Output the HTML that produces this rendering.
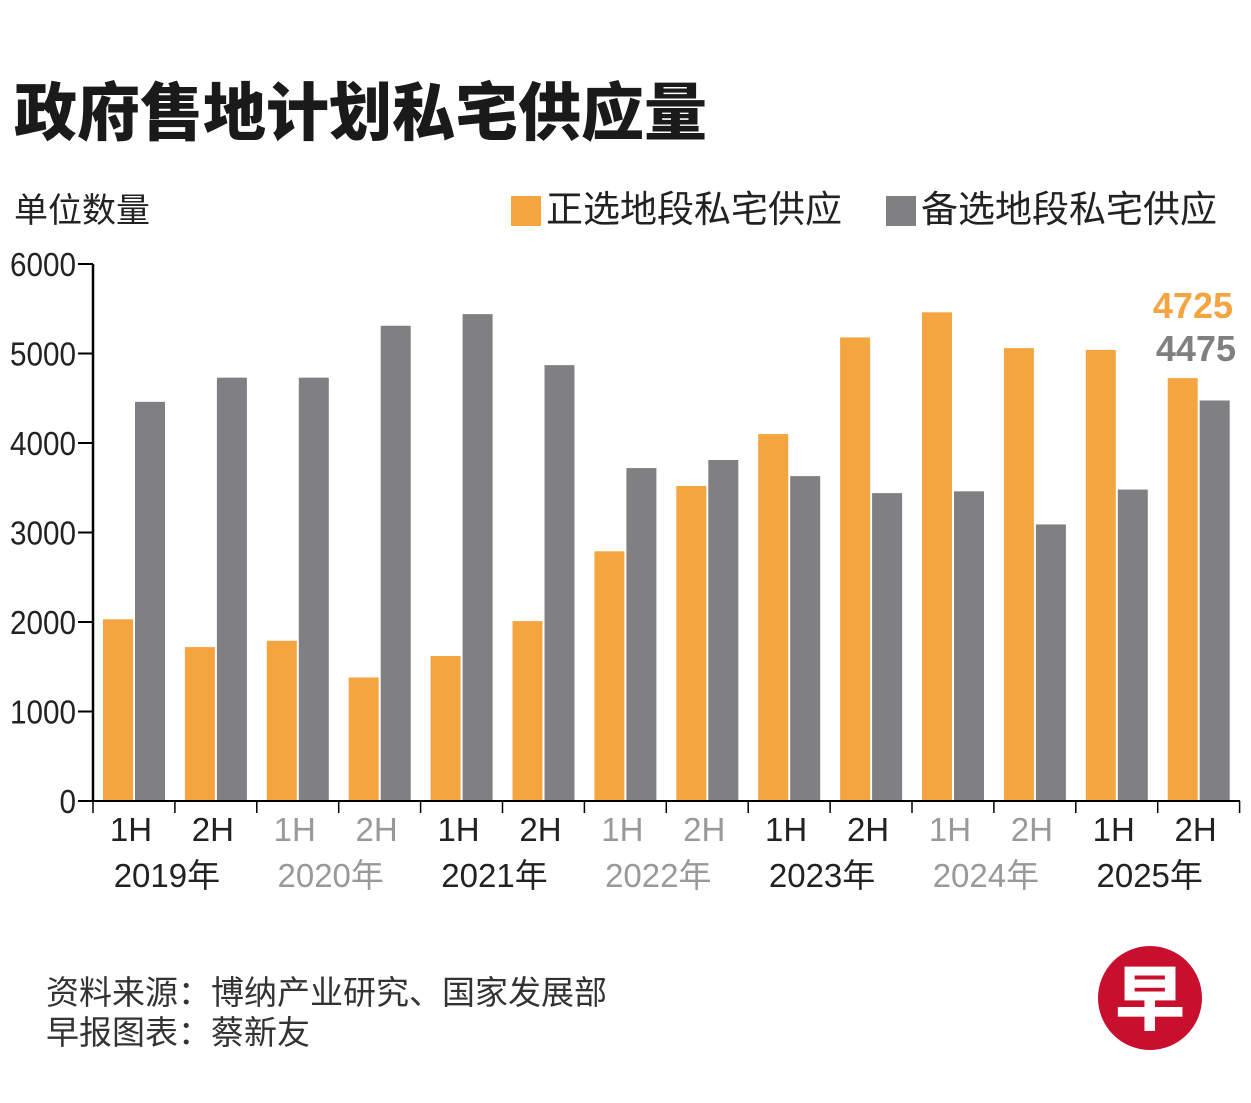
<!DOCTYPE html>
<html><head><meta charset="utf-8"><style>
body{margin:0;background:#fff;width:1251px;height:1098px;overflow:hidden;font-family:"Liberation Sans","Noto Sans CJK SC",sans-serif}
</style></head><body>
<svg id="c" width="1251" height="1098" xmlns="http://www.w3.org/2000/svg">
<text x="14" y="135" font-size="63" font-weight="900" fill="#1a1a1a" font-family="Noto Sans CJK SC,sans-serif">政府售地计划私宅供应量</text>
<text x="14" y="222" font-size="34" fill="#222" font-family="Noto Sans CJK SC,sans-serif">单位数量</text>
<rect x="511" y="196" width="30" height="30" fill="#f5a53f"/>
<text x="546" y="222" font-size="37" fill="#222" font-family="Noto Sans CJK SC,sans-serif">正选地段私宅供应</text>
<rect x="886" y="196" width="30" height="30" fill="#808082"/>
<text x="921" y="222" font-size="37" fill="#222" font-family="Noto Sans CJK SC,sans-serif">备选地段私宅供应</text>
<g id="plot"></g>
<text x="1233" y="318" text-anchor="end" font-size="36" font-weight="bold" fill="#f5a53f">4725</text>
<text x="1236" y="361" text-anchor="end" font-size="36" font-weight="bold" fill="#808082">4475</text>
<text x="46" y="1004" font-size="33" fill="#333" font-family="Noto Sans CJK SC,sans-serif">资料来源：博纳产业研究、国家发展部</text>
<text x="46" y="1044" font-size="33" fill="#333" font-family="Noto Sans CJK SC,sans-serif">早报图表：蔡新友</text>
<circle cx="1150" cy="998" r="52" fill="#c8102e"/>
<text x="1150" y="1024" text-anchor="middle" font-size="70" font-weight="900" fill="#fff" font-family="Noto Sans CJK SC,sans-serif">早</text>
</svg>
<script>
const years=["2019年","2020年","2021年","2022年","2023年","2024年","2025年"];
const halves=["1H","2H"];
const primary=[2030,1720,1790,1380,1620,2010,2790,3520,4100,5180,5460,5060,5040,4725];
const reserve=[4460,4730,4730,5310,5440,4870,3720,3810,3630,3440,3460,3090,3480,4475];
const yTicks=[0,1000,2000,3000,4000,5000,6000];
const NS="http://www.w3.org/2000/svg";
const g=document.getElementById('plot');
const x0=93,hw=81.9,y0=801,yTop=264,yMax=6000;
const Y=v=>y0-(v/yMax)*(y0-yTop);
function mk(t,a,txt){const e=document.createElementNS(NS,t);for(const k in a)e.setAttribute(k,a[k]);if(txt!=null)e.textContent=txt;g.appendChild(e);return e;}
yTicks.forEach(v=>{
 const l=mk('line',{x1:78,x2:93,y1:Y(v),y2:Y(v),stroke:'#000','stroke-width':2});
 
 
 const t=mk('text',{x:76,y:Y(v)+12,'text-anchor':'end','font-size':33,fill:'#222','textLength':(String(v).length*16.5),'lengthAdjust':'spacingAndGlyphs'},String(v));
 
 
});
primary.forEach((v,i)=>{
 const bx=x0+i*hw+10;
 const r=mk('rect',{x:bx,y:Y(v),width:30,height:y0-Y(v),fill:'#f5a53f'});
 
 
 const r2=mk('rect',{x:bx+32,y:Y(reserve[i]),width:30,height:y0-Y(reserve[i]),fill:'#808082'});
 
 
 const yi=Math.floor(i/2);
 const col=yi%2===1?'#999':'#222';
 const t=mk('text',{x:x0+i*hw+hw/2-3,y:841,'text-anchor':'middle','font-size':33,fill:col},halves[i%2]);
 
 
});
for(let i=0;i<=14;i++){
 const l=mk('line',{x1:x0+i*hw,x2:x0+i*hw,y1:y0,y2:813,stroke:'#000','stroke-width':1.5});
 
 
}
years.forEach((y,i)=>{
 const t=mk('text',{x:x0+i*2*hw+hw-8,y:887,'text-anchor':'middle','font-size':33,fill:i%2?'#999':'#222','font-family':'Liberation Sans,Noto Sans CJK SC,sans-serif'},y);
 
 
});
const ax=mk('line',{x1:93,x2:93,y1:264,y2:802,stroke:'#000','stroke-width':2.5});


const bx=mk('line',{x1:92,x2:1240,y1:y0,y2:y0,stroke:'#000','stroke-width':2});


</script>
</body></html>
